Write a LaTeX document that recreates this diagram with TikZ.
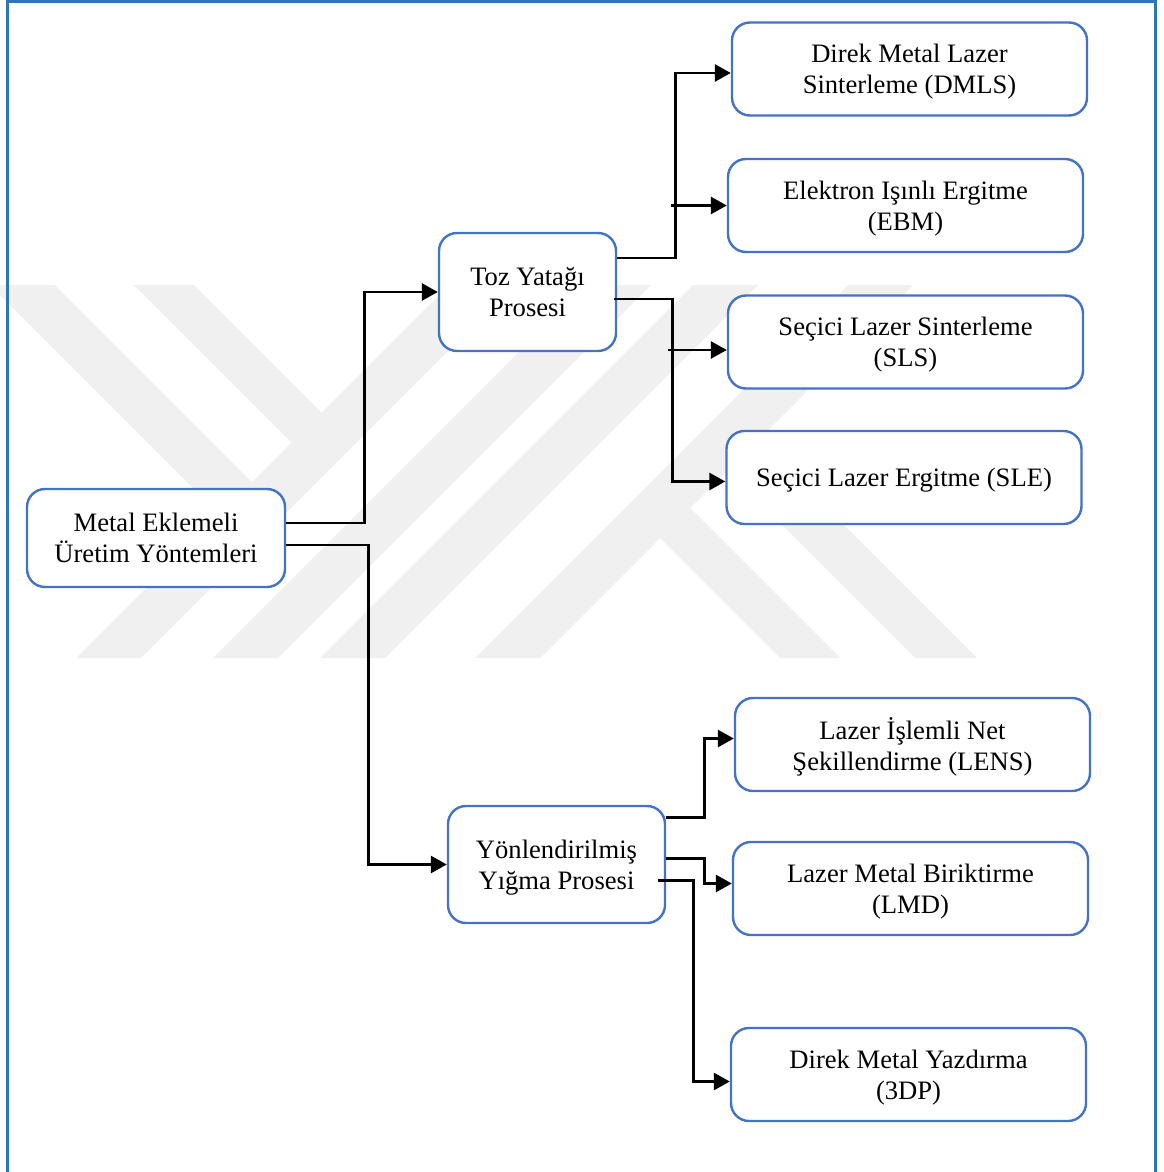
\documentclass[tikz,border=0pt]{standalone}
\usepackage{fontspec}
\setmainfont{Liberation Serif}
\usetikzlibrary{arrows.meta,calc}

\definecolor{boxblue}{HTML}{4472C4}
\definecolor{frameblue}{HTML}{2E75B6}
\definecolor{markgray}{HTML}{F0F0F0}

\tikzset{
  procbox/.style={draw=boxblue, line width=1.2pt, rounded corners=9pt,
    fill=white, align=center, inner sep=0pt, text depth=0pt,
    font=\fontsize{13.3}{15.5}\selectfont},
  methodbox/.style={procbox, minimum width=177.5pt, minimum height=46.5pt},
  link/.style={black, line width=1.4pt, -{Triangle[length=8pt,width=8.5pt]}},
}

\begin{document}
\begin{tikzpicture}[x=0.5pt, y=-0.5pt]
  \useasboundingbox (0,0) rectangle (1163,1172);

  % watermark
  \begin{scope}
    \clip (0,285) rectangle (1163,658);
    \fill[markgray] (76,658) -- (141,658) -- (514,285) -- (449,285) -- cycle;
    \fill[markgray] (213,658) -- (278,658) -- (651,285) -- (586,285) -- cycle;
    \fill[markgray] (-10,285) -- (55,285) -- (252,482) -- (219.5,514.5) -- cycle;
    \fill[markgray] (134,285) -- (194,285) -- (321.5,412.5) -- (291.5,442.5) -- cycle;
    \fill[markgray] (320,658) -- (385,658) -- (758,285) -- (693,285) -- cycle;
    \fill[markgray] (475,658) -- (540,658) -- (913,285) -- (848,285) -- cycle;
    \fill[markgray] (780,658) -- (840,658) -- (690,508) -- (660,538) -- cycle;
    \fill[markgray] (915,658) -- (977,658) -- (758.5,439.5) -- (727.5,470.5) -- cycle;
  \end{scope}

  \draw[frameblue, line width=1.5pt] (7,1172) -- (7,2) -- (1155,2) -- (1155,1172);

  \node[procbox, minimum width=129pt, minimum height=49pt] (metal) at (156,538)
    {Metal Eklemeli\\Üretim Yöntemleri};
  \node[procbox, minimum width=88.5pt, minimum height=59pt] (toz) at (527.5,292)
    {Toz Yatağı\\Prosesi};
  \node[procbox, minimum width=108.5pt, minimum height=58.5pt] (yon) at (556.5,864.5)
    {Yönlendirilmiş\\Yığma Prosesi};

  \node[methodbox] (dmls) at (909.5,69) {Direk Metal Lazer\\Sinterleme (DMLS)};
  \node[methodbox] (ebm) at (905.5,205.5) {Elektron Işınlı Ergitme\\(EBM)};
  \node[methodbox] (sls) at (905.5,342) {Seçici Lazer Sinterleme\\(SLS)};
  \node[methodbox] (sle) at (904,477.5) {Seçici Lazer Ergitme (SLE)};
  \node[methodbox] (lens) at (912.5,744.5) {Lazer İşlemli Net\\Şekillendirme (LENS)};
  \node[methodbox] (lmd) at (910.5,888.5) {Lazer Metal Biriktirme\\(LMD)};
  \node[methodbox] (tdp) at (908.5,1074.5) {Direk Metal Yazdırma\\(3DP)};

  \draw[link] ($(metal.east)+(0,-15)$) -- ++(78,0) |- (toz.west);
  \draw[link] ($(metal.east)+(0,7)$) -- ++(82,0) |- (yon.west);

  \draw[link] ($(toz.east)+(0,-34)$) -- ++(58,0) |- ($(dmls.west)+(0,4)$);
  \draw[link] ($(ebm.west)+(-56,0)$) -- (ebm.west);
  \draw[link] ($(toz.east)+(-3,7)$) -- ++(58,0) |- ($(sle.west)+(0,4)$);
  \draw[link] ($(sls.west)+(-59,8)$) -- ($(sls.west)+(0,8)$);

  \draw[link] ($(yon.east)+(0,-47)$) -- ++(38,0) |- ($(lens.west)+(0,-6)$);
  \draw[link] ($(yon.east)+(0,-6)$) -- ++(38,0) |- ($(lmd.west)+(0,-5)$);
  \draw[link] ($(yon.east)+(-8,16)$) -- ++(35,0) |- ($(tdp.west)+(0,7)$);
\end{tikzpicture}
\end{document}
